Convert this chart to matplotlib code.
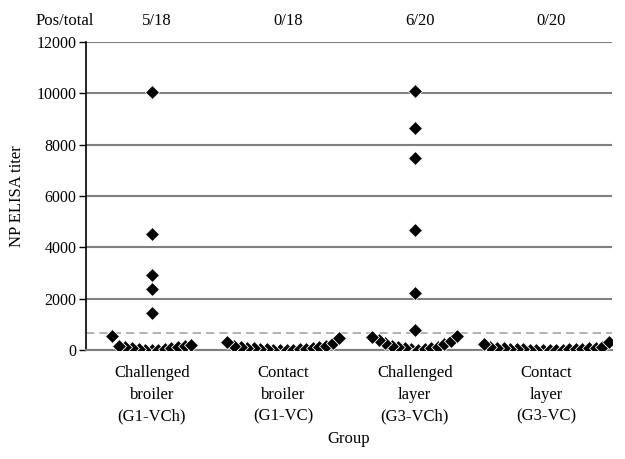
import numpy as np
import matplotlib
matplotlib.use("Agg")
import matplotlib.pyplot as plt

plt.rcParams['font.family'] = ['Liberation Serif', 'DejaVu Serif']

# Data
groups = ["Challenged\nbroiler\n(G1-VCh)", "Contact\nbroiler\n(G1-VC)",
          "Challenged\nlayer\n(G3-VCh)", "Contact\nlayer\n(G3-VC)"]
pos_total = ["5/18", "0/18", "6/20", "0/20"]

# low (negative) titers, laid out left to right in a V
g1_low = [560, 170, 110, 70, 40, 15, 0, 15, 40, 70, 100, 140, 180]
g2_low = [300, 170, 110, 80, 55, 35, 20, 10, 0, 0, 10, 25, 45, 70, 100, 150, 280, 450]
g3_low = [500, 380, 280, 160, 100, 60, 25, 0, 20, 60, 120, 230, 360, 560]
g4_low = [240, 120, 90, 70, 50, 35, 20, 10, 5, 0, 0, 5, 10, 20, 35, 50, 70, 90, 130, 320]

# positive titers, stacked at group centre
g1_pos = [10050, 4520, 2930, 2390, 1430]
g2_pos = []
g3_pos = [10090, 8630, 7490, 4660, 2210, 780]
g4_pos = []

cutoff = 670

low_sets = [g1_low, g2_low, g3_low, g4_low]
pos_sets = [g1_pos, g2_pos, g3_pos, g4_pos]

fig = plt.figure(figsize=(6.25, 4.59), dpi=100)
ax = fig.add_axes([0.1376, 0.2377, 0.8416, 0.6708])

step = 0.05
mk = dict(marker='D', color='black', markersize=7.5, markeredgecolor='white',
          markeredgewidth=0.6, linestyle='none')

for gi, (low, pos) in enumerate(zip(low_sets, pos_sets)):
    c = gi + 1
    n = len(low)
    offs = (np.arange(n) - (n - 1) / 2) * step
    # draw from the centre outwards so outer markers sit on top
    order = np.argsort(np.abs(offs), kind='stable')
    for k, j in enumerate(order):
        ax.plot(c + offs[j], low[j], zorder=3 + k * 0.01, **mk)
    for v in pos:
        ax.plot(c, v, zorder=4, **mk)

ax.axhline(cutoff, color='#a6a6a6', linestyle=(0, (5, 3)), linewidth=1.2, zorder=2)

ax.set_xlim(0.5, 4.5)
ax.set_ylim(0, 12000)
ax.set_yticks(np.arange(0, 12001, 2000))
ax.yaxis.grid(True, color='#7f7f7f', linewidth=1.5)
ax.set_axisbelow(True)
ax.set_xticks([1, 2, 3, 4])
ax.set_xticklabels(groups, fontsize=12, linespacing=1.45)
ax.tick_params(axis='x', length=0, pad=11)
ax.tick_params(axis='y', labelsize=11.5, length=5, width=1, direction='out', pad=2)

for s in ['top', 'right']:
    ax.spines[s].set_visible(False)
ax.spines['left'].set_color('black')
ax.spines['left'].set_linewidth(1.2)
ax.spines['bottom'].set_color('#7f7f7f')
ax.spines['bottom'].set_linewidth(1.5)

ax.set_xlabel("Group", fontsize=12)
ax.xaxis.set_label_coords(0.5, -0.265)
ax.set_ylabel("NP ELISA titer", fontsize=12, labelpad=8)

tr = ax.get_xaxis_transform()
ax.text(0.34, 1.068, "Pos/total", transform=tr, ha='center', va='center', fontsize=12)
for c, t in enumerate(pos_total, start=1):
    ax.text(c + 0.04, 1.068, t, transform=tr, ha='center', va='center', fontsize=12)

fig.savefig("out.png", dpi=100)
